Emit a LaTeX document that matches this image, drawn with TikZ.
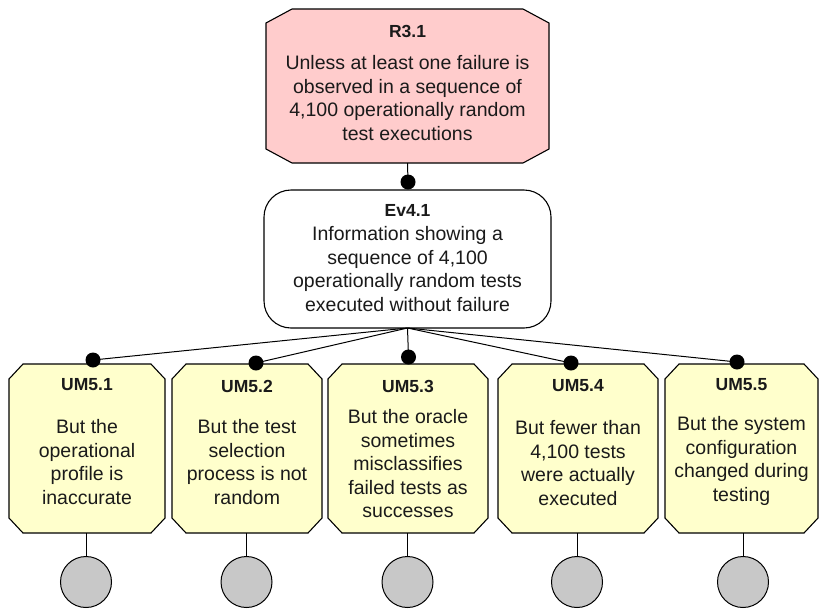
\documentclass[tikz,border=0pt]{standalone}
\usepackage{fontspec}
\setmainfont{Liberation Sans}
\definecolor{pinkfill}{HTML}{FFCCCC}
\definecolor{yelfill}{HTML}{FFFFCC}
\definecolor{grayfill}{HTML}{C8C8C8}
\definecolor{ink}{HTML}{1A1A1A}
\newcommand\octbox[4]{%
  \draw[#4] ([xshift=#2]#1.north west) -- ([xshift=-#2]#1.north east)
    -- ([yshift=-#3]#1.north east) -- ([yshift=#3]#1.south east)
    -- ([xshift=-#2]#1.south east) -- ([xshift=#2]#1.south west)
    -- ([yshift=#3]#1.south west) -- ([yshift=-#3]#1.north west) -- cycle;}
\begin{document}
\begin{tikzpicture}[x=1pt,y=-1pt,
  area/.style={rectangle, inner sep=0pt, outer sep=0pt},
  shapeline/.style={draw=black, line width=1.1pt, line join=miter},
  link/.style={draw=black, line width=1pt},
  dot/.style={circle, fill=black, inner sep=0pt, outer sep=0pt, minimum size=15pt},
  leaf/.style={circle, draw=black, line width=1pt, fill=grayfill, inner sep=0pt, outer sep=0pt, minimum size=51pt},
  ttl/.style={font=\bfseries\fontsize{17.5}{21}\selectfont, text=ink, inner sep=0pt},
  bod/.style={font=\fontsize{19.5}{23.5}\selectfont, text=ink, align=center, inner sep=0pt},
  umarea/.style={area, minimum height=169pt}
]
\useasboundingbox (0,0) rectangle (819,608);

% ---- R3.1
\node[area, minimum width=283pt, minimum height=154pt] (r31) at (407.5,86) {};
\octbox{r31}{26pt}{14pt}{shapeline, fill=pinkfill}
\node[ttl] (r31t) at (407.5,31) {R3.1};
\node[bod] (r31b) at (407.5,98) {Unless at least one failure is\\observed in a sequence of\\4,100 operationally random\\test executions};

% ---- Ev4.1
\node[draw=black, line width=1.1pt, fill=white, rounded corners=27pt, inner sep=0pt, outer sep=0pt,
      minimum width=287pt, minimum height=138pt] (ev) at (407.5,259) {};
\node[ttl] (evt) at (407.5,210) {Ev4.1};
\node[bod] (evb) at (407.5,269) {Information showing a\\sequence of 4,100\\operationally random tests\\executed without failure};

\node[dot] (d0) at (408,182) {};
\draw[link] (r31.south) -- (d0.center);

% ---- UM boxes
\node[umarea, minimum width=156pt] (um1) at (87,448.5) {};
\node[umarea, minimum width=150pt] (um2) at (247,448.5) {};
\node[umarea, minimum width=160pt] (um3) at (408,448.5) {};
\node[umarea, minimum width=160pt] (um4) at (578,448.5) {};
\node[umarea, minimum width=153pt] (um5) at (741.5,448.5) {};
\foreach \u in {um1,um2,um3,um4,um5}{\octbox{\u}{14pt}{15pt}{shapeline, fill=yelfill}}

\node[dot] (d1) at (93,360) {};
\node[dot] (d2) at (256,363) {};
\node[dot] (d3) at (408.5,357) {};
\node[dot] (d4) at (571,363) {};
\node[dot] (d5) at (737,362) {};
\foreach \d in {d1,d2,d3,d4,d5}{\draw[link] (ev.south) -- (\d.center);}

\node[ttl] (um1t) at (87,385) {UM5.1};
\node[ttl] (um2t) at (247,386) {UM5.2};
\node[ttl] (um3t) at (408,386) {UM5.3};
\node[ttl] (um4t) at (578,386) {UM5.4};
\node[ttl] (um5t) at (741.5,385) {UM5.5};

\node[bod] (um1b) at (87,462) {But the\\operational\\profile is\\inaccurate};
\node[bod] (um2b) at (247,462) {But the test\\selection\\process is not\\random};
\node[bod] (um3b) at (408,464) {But the oracle\\sometimes\\misclassifies\\failed tests as\\successes};
\node[bod] (um4b) at (578,463) {But fewer than\\4,100 tests\\were actually\\executed};
\node[bod] (um5b) at (741.5,461) {But the system\\configuration\\changed during\\testing};

% ---- leaf circles
\node[leaf] (c1) at (86,582) {};
\node[leaf] (c2) at (246.5,582) {};
\node[leaf] (c3) at (407.5,582) {};
\node[leaf] (c4) at (577,582) {};
\node[leaf] (c5) at (743,582) {};
\draw[link] (c1.north) -- (c1.north |- um1.south);
\draw[link] (c2.north) -- (c2.north |- um2.south);
\draw[link] (c3.north) -- (c3.north |- um3.south);
\draw[link] (c4.north) -- (c4.north |- um4.south);
\draw[link] (c5.north) -- (c5.north |- um5.south);
\end{tikzpicture}
\end{document}
